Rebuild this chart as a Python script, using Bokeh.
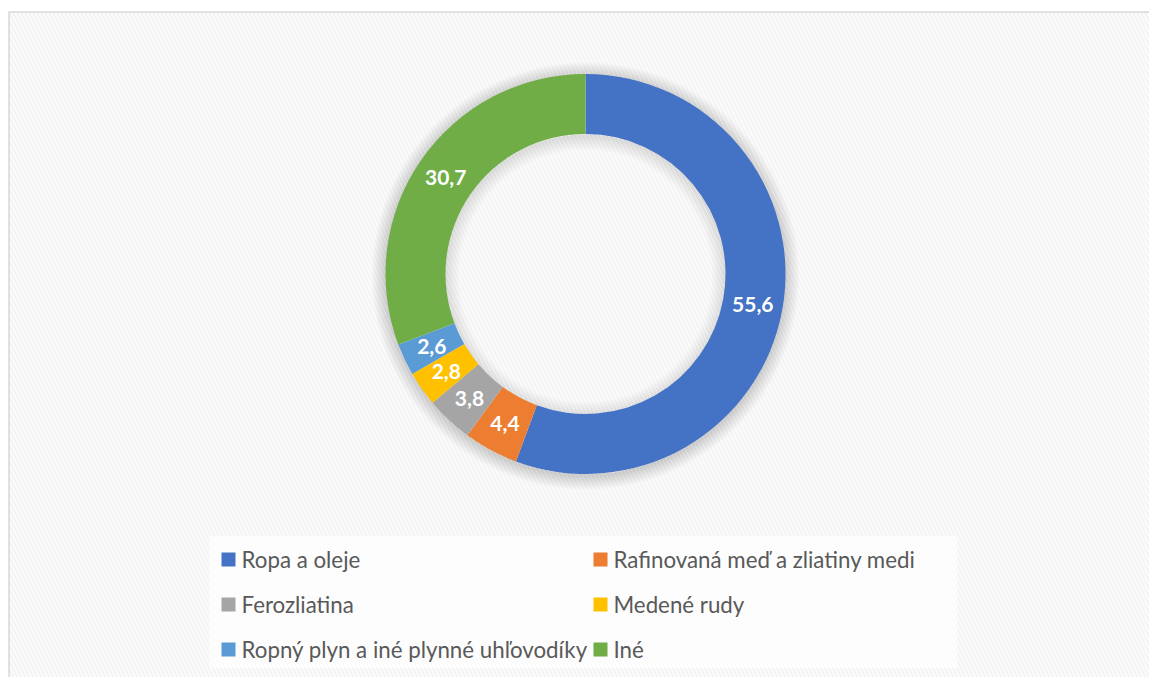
from bokeh.plotting import figure
from bokeh.models import Range1d
from bokeh.core.properties import value
from bokeh.embed import file_html
from bokeh.resources import INLINE
import math

categories = ["Ropa a oleje", "Rafinovaná meď a zliatiny medi", "Ferozliatina",
              "Medené rudy", "Ropný plyn a iné plynné uhľovodíky", "Iné"]
values = [55.6, 4.4, 3.8, 2.8, 2.6, 30.7]
labels = ["55,6", "4,4", "3,8", "2,8", "2,6", "30,7"]
colors = ["#4472C4", "#ED7D31", "#A5A5A5", "#FFC000", "#5B9BD5", "#70AD47"]

W, H = 1149, 677
def px(x):
    return x
def py(y):
    return H - y

p = figure(width=W, height=H, x_range=Range1d(0, W), y_range=Range1d(0, H),
           x_axis_type=None, y_axis_type=None, min_border=0,
           output_backend="svg", toolbar_location=None)
p.grid.visible = False
p.outline_line_color = None
p.background_fill_color = "white"
p.border_fill_color = "white"

# chart area background with diagonal hatch
p.quad(left=px(8.5), right=W + 20, top=py(11.5), bottom=-20,
       fill_color="white", line_color="#d9d9d9", line_width=1.5,
       hatch_pattern="left_diagonal_line", hatch_color="#f4f4f4",
       hatch_scale=8, hatch_weight=2.5)

cx, cy = px(585), py(273.5)
r_out, r_in, r_lab = 200, 140, 170

# soft shadow
N = 14
for k in range(1, N + 1):
    p.annulus(x=cx, y=cy - 2, inner_radius=r_out - 2, outer_radius=r_out + k,
              fill_color="black", fill_alpha=0.010, line_color=None)
    p.annulus(x=cx, y=cy - 2, inner_radius=r_in - k, outer_radius=r_in + 2,
              fill_color="black", fill_alpha=0.008, line_color=None)

total = sum(values)
starts, ends, mids = [], [], []
a = math.pi / 2
for v in values:
    sweep = v / total * 2 * math.pi
    starts.append(a)
    ends.append(a - sweep)
    mids.append(a - sweep / 2)
    a -= sweep

p.annular_wedge(x=[cx] * len(values), y=[cy] * len(values),
                inner_radius=r_in, outer_radius=r_out,
                start_angle=starts, end_angle=ends, direction="clock",
                fill_color=colors, line_color=None)

lx = [cx + r_lab * math.cos(m) for m in mids]
ly = [cy + r_lab * math.sin(m) for m in mids]
p.text(x=lx, y=ly, text=labels, text_align="center", text_baseline="middle",
       text_color="white", text_font=value("Lato"), text_font_style="bold",
       text_font_size="21px")

# legend box
p.quad(left=px(209), right=px(957), top=py(535), bottom=py(668),
       fill_color="white", fill_alpha=0.7, line_color=None)

col_sq = [px(228), px(600)]
row_y = [py(559), py(604), py(649)]
sq_x, sq_y, tx, ty = [], [], [], []
for i in range(len(categories)):
    c, r = i % 2, i // 2
    sq_x.append(col_sq[c])
    sq_y.append(row_y[r])
    tx.append(col_sq[c] + 13)
    ty.append(row_y[r])
p.rect(x=sq_x, y=sq_y, width=14, height=14, fill_color=colors, line_color=None)
p.text(x=tx, y=ty, text=categories, text_align="left", text_baseline="middle",
       text_color="#595959", text_font=value("Lato"), text_font_size="22.3px")

open("out.html", "w").write(file_html(p, INLINE))
